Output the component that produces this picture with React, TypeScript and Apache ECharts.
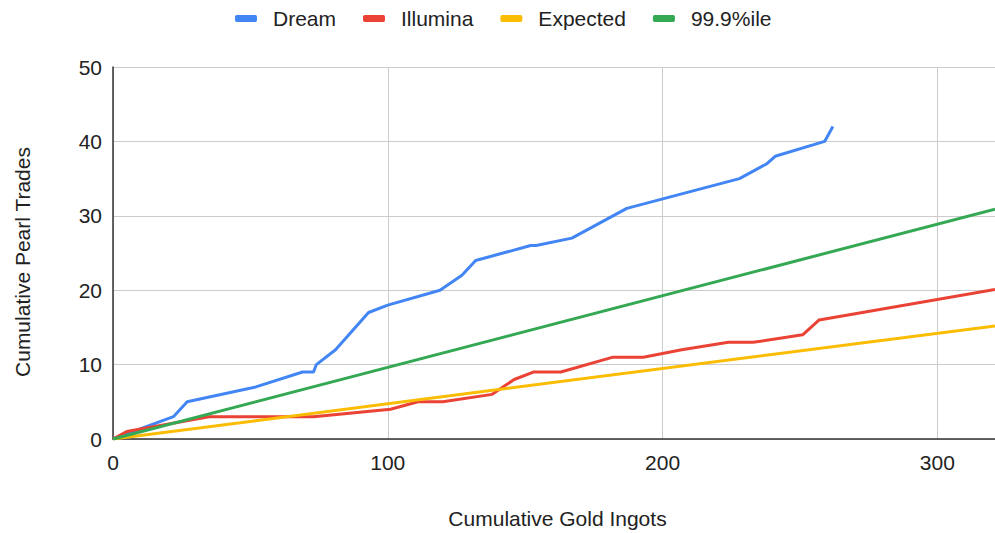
import React, { useEffect, useRef } from "react";
import * as echarts from "echarts";

const seriesNames = ["Dream", "Illumina", "Expected", "99.9%ile"];
const seriesColors = ["#4285F4", "#EA4335", "#FBBC04", "#34A853"];

const dream: [number, number][] = [
  [0, 0], [22, 3], [27, 5], [52, 7], [69, 9], [73, 9], [74, 10], [81, 12],
  [93, 17], [100, 18], [119, 20], [127, 22], [132, 24], [152, 26], [154, 26],
  [167, 27], [187, 31], [228, 35], [238, 37], [241, 38], [259, 40], [262, 42],
];
const illumina: [number, number][] = [
  [0, 0], [5, 1], [35, 3], [73, 3], [101, 4], [111, 5], [120, 5], [138, 6],
  [146, 8], [153, 9], [163, 9], [182, 11], [193, 11], [207, 12], [224, 13],
  [233, 13], [251, 14], [257, 16], [321, 20.1],
];
const expected: [number, number][] = [[0, 0], [321, 15.2]];
const pct999: [number, number][] = [[0, 0], [321, 30.9]];

const xTicks = { min: 0, max: 321, interval: 100 };
const yTicks = { min: 0, max: 50, interval: 10 };

const FONT = "'Liberation Sans', Arial, sans-serif";

export default function App() {
  const ref = useRef<HTMLDivElement>(null);
  useEffect(() => {
    if (!ref.current) return;
    const chart = echarts.init(ref.current, null, { renderer: "svg" });
    const allData = [dream, illumina, expected, pct999];
    chart.setOption({
      animation: false,
      textStyle: { fontFamily: FONT },
      color: seriesColors,
      legend: {
        left: 230,
        top: 3,
        icon: "roundRect",
        itemWidth: 22,
        itemHeight: 7,
        itemGap: 27,
        textStyle: { fontSize: 21, color: "#222", fontFamily: FONT, padding: [0, 0, 0, 11] },
        data: seriesNames,
      },
      grid: { left: 113, right: 0, top: 67, bottom: 94, containLabel: false, outerBoundsMode: "none" },
      xAxis: {
        type: "value",
        min: xTicks.min,
        max: xTicks.max,
        interval: xTicks.interval,
        name: "Cumulative Gold Ingots",
        nameLocation: "middle",
        nameGap: 69,
        nameTextStyle: { fontSize: 21, color: "#222", fontFamily: FONT, padding: [0, 0, 0, 7] },
        axisLine: { show: true, onZero: false, lineStyle: { color: "#333", width: 1.5 } },
        axisTick: { show: false },
        axisLabel: { fontSize: 21, color: "#222", margin: 13, showMaxLabel: false, fontFamily: FONT },
        splitLine: { show: true, lineStyle: { color: "#cccccc", width: 1 } },
      },
      yAxis: {
        type: "value",
        min: yTicks.min,
        max: yTicks.max,
        interval: yTicks.interval,
        name: "Cumulative Pearl Trades",
        nameLocation: "middle",
        nameGap: 80,
        nameTextStyle: { fontSize: 21, color: "#222", fontFamily: FONT, padding: [0, 18, 0, 0] },
        axisLine: { show: true, lineStyle: { color: "#333", width: 1.5 } },
        axisTick: { show: false },
        axisLabel: { fontSize: 21, color: "#222", margin: 11, fontFamily: FONT },
        splitLine: { show: true, lineStyle: { color: "#cccccc", width: 1 } },
      },
      series: seriesNames.map((name, i) => ({
        name,
        type: "line",
        data: allData[i],
        showSymbol: false,
        symbol: "none",
        lineStyle: { width: 3, color: seriesColors[i] },
        itemStyle: { color: seriesColors[i] },
        z: 2 + i,
      })),
    });
    return () => chart.dispose();
  }, []);
  return (
    <div
      ref={ref}
      style={{ position: "fixed", left: 0, top: 0, width: 995, height: 533, background: "#fff" }}
    />
  );
}
